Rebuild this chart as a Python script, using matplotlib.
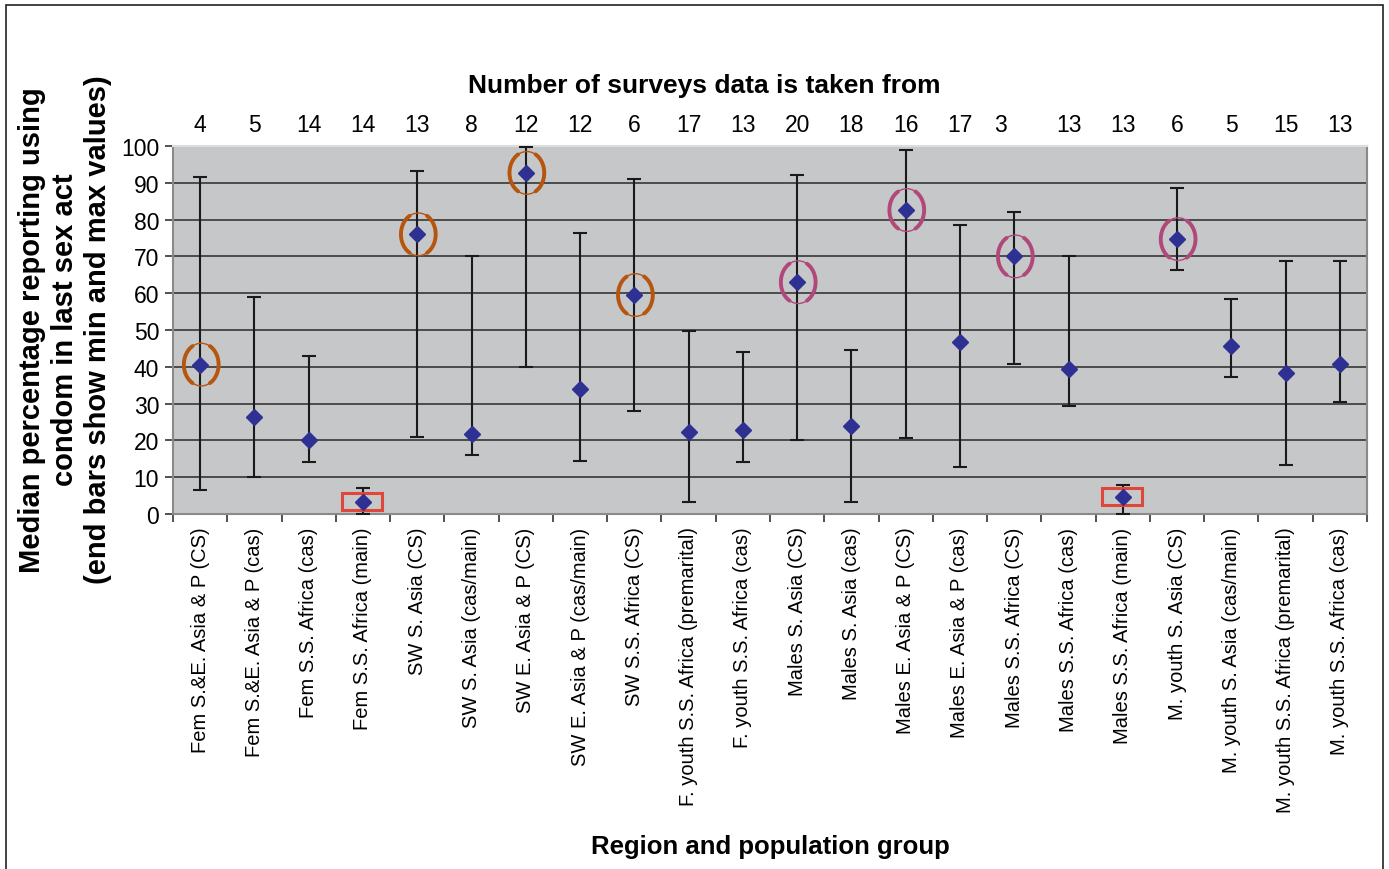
import matplotlib
matplotlib.use("Agg")
import matplotlib.pyplot as plt
from matplotlib.patches import Ellipse, Rectangle
import numpy as np

categories = [
    "Fem S.&E. Asia & P (CS)", "Fem S.&E. Asia & P (cas)", "Fem S.S. Africa (cas)",
    "Fem S.S. Africa (main)", "SW S. Asia (CS)", "SW S. Asia (cas/main)",
    "SW E. Asia & P (CS)", "SW E. Asia & P (cas/main)", "SW S.S. Africa (CS)",
    "F. youth S.S. Africa (premarital)", "F. youth S.S. Africa (cas)", "Males S. Asia (CS)",
    "Males S. Asia (cas)", "Males E. Asia & P (CS)", "Males E. Asia & P (cas)",
    "Males S.S. Africa (CS)", "Males S.S. Africa (cas)", "Males S.S. Africa (main)",
    "M. youth S. Asia (CS)", "M. youth S. Asia (cas/main)",
    "M. youth S.S. Africa (premarital)", "M. youth S.S. Africa (cas)",
]
median = [40.6, 26.4, 20.0, 3.3, 76.0, 21.7, 92.7, 34.0, 59.5, 22.3, 22.8, 63.0,
          24.0, 82.6, 46.7, 70.0, 39.4, 4.6, 74.7, 45.6, 38.3, 40.8]
max_vals = [91.6, 59.0, 43.0, 7.0, 93.2, 70.0, 99.7, 76.4, 91.0, 49.7, 44.0, 92.2,
            44.6, 99.0, 78.5, 82.0, 70.0, 8.0, 88.6, 58.4, 68.8, 68.8]
min_vals = [6.5, 10.0, 14.0, 0.0, 21.0, 16.0, 40.0, 14.4, 28.0, 3.3, 14.0, 20.0,
            3.3, 20.6, 12.8, 40.8, 29.3, 0.0, 66.3, 37.2, 13.3, 30.4]
n_surveys = [4, 5, 14, 14, 13, 8, 12, 12, 6, 17, 13, 20, 18, 16, 17, 3, 13, 13, 6, 5, 15, 13]
orange_circled = [0, 4, 6, 8]
pink_circled = [11, 13, 15, 18]
boxed = [3, 17]

W, H = 1389, 870
fig = plt.figure(figsize=(W / 100, H / 100), dpi=100)
L, R, T, B = 173, 1367, 147, 515
ax = fig.add_axes([L / W, 1 - B / H, (R - L) / W, (B - T) / H])

x = np.arange(len(categories))
med = np.array(median)
yerr = np.vstack([med - np.array(min_vals), np.array(max_vals) - med])

ax.set_facecolor("#C6C7C9")
ax.set_xlim(-0.5, len(categories) - 0.5)
ax.set_ylim(0, 100)
ax.set_yticks(np.arange(0, 101, 10))
ax.yaxis.grid(True, color="#2a2a2a", lw=1.1)
ax.set_axisbelow(True)

ax.errorbar(x, med, yerr=yerr, fmt="none", ecolor="#1a1a1a", elinewidth=1.5,
            capsize=5, capthick=1.5, zorder=3)
ax.plot(x, med, linestyle="none", marker="D", markersize=8.5, color="#2E3192",
        markeredgecolor="#2E3192", zorder=5)

def ring(i, color):
    cx, cy, a, b = x[i] + 0.02, med[i], 0.32, 5.8
    ax.add_patch(Ellipse((cx, cy), 2 * a, 2 * b, fill=False, edgecolor=color, lw=1.0, zorder=4))
    for t0, t1 in [(120, 240), (-60, 60)]:
        t = np.radians(np.linspace(t0, t1, 60))
        ax.plot(cx + a * np.cos(t), cy + b * np.sin(t), color=color, lw=2.8,
                solid_capstyle="round", zorder=4)

for i in orange_circled:
    ring(i, "#B5550E")
for i in pink_circled:
    ring(i, "#B0487A")
for i in boxed:
    ax.add_patch(Rectangle((x[i] - 0.39, med[i] - 2.2), 0.74, 4.6, fill=False,
                           edgecolor="#E0473A", lw=2.2, zorder=4))

ax.set_xticks(x)
ax.set_xticklabels(categories, rotation=90, fontsize=14.5, family="Liberation Sans",
                   va="top", ha="center")
ax.set_xticks(np.arange(-0.5, len(categories), 1), minor=True)
ax.tick_params(axis="x", which="major", length=0, pad=9)
ax.tick_params(axis="x", which="minor", length=6, width=1.2, color="#333333", direction="out")
ax.tick_params(axis="y", length=6, width=1.2, color="#333333", labelsize=16.5, pad=4)
for lab in ax.get_yticklabels():
    lab.set_family("Liberation Sans")

for s in ax.spines.values():
    s.set_color("#8a8a8a")
    s.set_linewidth(1.5)
ax.spines["top"].set_color("#dddddd")

# top survey counts
narrow = ["Liberation Sans Narrow", "Liberation Sans"]
for i, n in enumerate(n_surveys):
    off = -0.26 if n == 3 else 0.0
    ax.text(x[i] + off, 1 - (125 - T) / (B - T), str(n), transform=ax.get_xaxis_transform(),
            ha="center", va="center", fontsize=16.5, family=narrow)
fig.text(704 / W, 1 - 86 / H, "Number of surveys data is taken from", ha="center", va="center",
         fontsize=19, fontweight="bold", family=narrow)

fig.text(770 / W, 1 - 847 / H, "Region and population group", ha="center", va="center",
         fontsize=18.5, fontweight="bold", family="Liberation Sans")
fig.text(65 / W, 1 - 330 / H,
         "Median percentage reporting using\ncondom in last sex act\n(end bars show min and max values)",
         ha="center", va="center", rotation=90, fontsize=21, fontweight="bold",
         family="Liberation Sans", linespacing=1.22)

fig.add_artist(Rectangle((6 / W, -0.01), (W - 12) / W, 1 - 6 / H + 0.01, transform=fig.transFigure,
                         fill=False, edgecolor="#222222", lw=1.2))

fig.savefig("out.png", dpi=100, facecolor="white")
